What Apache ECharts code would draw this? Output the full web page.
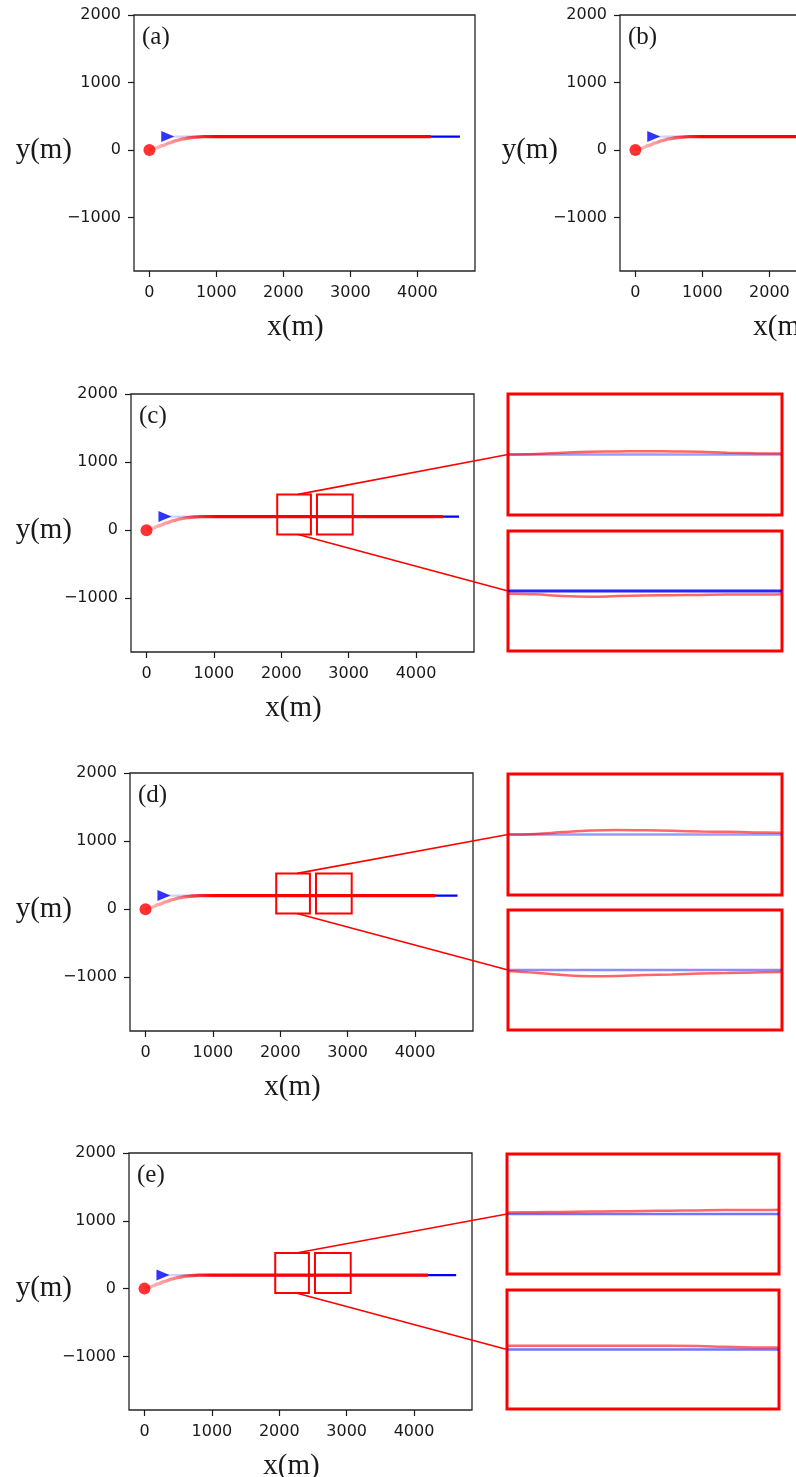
<!DOCTYPE html>
<html>
<head>
<meta charset="utf-8">
<script src="https://cdn.jsdelivr.net/npm/echarts@6/dist/echarts.min.js"></script>
<style>
html,body{margin:0;padding:0;background:#fff;}
#main{width:796px;height:1477px;}
</style>
</head>
<body>
<div id="main"></div>
<script>
// ---------------- data ----------------
const xTicks = [0, 1000, 2000, 3000, 4000];
const yTicks = [-1000, 0, 1000, 2000];
const xRange = [-230, 4860];
const yRange = [-1790, 2000];
const panelLabels = ['(a)', '(b)', '(c)', '(d)', '(e)'];
const xName = 'x(m)';
const yName = 'y(m)';

const startPoint = [0, 0];          // red circle (pursuer start)
const targetStart = [274, 200];     // blue triangle (target start)
const targetY = 200;

// pursuer approach curve (shared by all panels)
const approachX = [0, 100, 200, 300, 400, 500, 600, 700, 800, 900, 1000, 1200];
const approachY = [0, 30, 68, 106, 140, 166, 183, 193, 198, 200, 200, 200];

// end of trajectories per panel (a..e)
const redEndX  = [4200, 4200, 4400, 4300, 4205];
const blueEndX = [4635, 4635, 4637, 4630, 4625];

// zoom boxes (panels c, d, e)
const zoomBox1X = [1940, 2440];
const zoomBox2X = [2530, 3060];
const zoomBoxY  = [-65, 525];
const connectorAnchorX = 2250;
const insetYRange = [180, 220];

const zoomTopX    = [1940, 1990, 2040, 2090, 2140, 2190, 2240, 2290, 2340, 2390, 2440];
const zoomBottomX = [2530, 2583, 2636, 2689, 2742, 2795, 2848, 2901, 2954, 3007, 3060];

const cTopRed    = [200.0, 200.2, 200.6, 200.9, 201.0, 201.1, 201.0, 200.9, 200.6, 200.4, 200.3];
const cBottomRed = [199.1, 198.9, 198.3, 198.1, 198.3, 198.5, 198.6, 198.7, 198.8, 198.8, 198.9];
const dTopRed    = [200.0, 200.2, 200.8, 201.3, 201.5, 201.4, 201.2, 201.0, 200.9, 200.7, 200.6];
const dBottomRed = [199.7, 199.1, 198.3, 197.9, 198.0, 198.3, 198.5, 198.8, 199.0, 199.2, 199.3];
const eTopRed    = [200.5, 200.6, 200.7, 200.8, 200.9, 201.0, 201.1, 201.2, 201.3, 201.3, 201.4];
const eBottomRed = [201.3, 201.3, 201.3, 201.3, 201.3, 201.3, 201.3, 201.2, 200.9, 200.7, 200.7];

// ---------------- layout ----------------
const mainGrids = [
  {left: 134, top: 15,   width: 341, height: 256},
  {left: 620, top: 15,   width: 341, height: 256},
  {left: 131, top: 394,  width: 343, height: 258},
  {left: 130, top: 773,  width: 343, height: 258},
  {left: 129, top: 1153, width: 343, height: 257}
];
const yNameRight = [72, 558, 72, 72, 72];
const insetGrids = [ // [top, bottom] for panels c, d, e
  [{left: 508, top: 394, width: 274, height: 121}, {left: 508, top: 531, width: 274, height: 120}],
  [{left: 508, top: 774, width: 274, height: 121}, {left: 508, top: 910, width: 274, height: 120}],
  [{left: 507, top: 1154, width: 272, height: 120}, {left: 507, top: 1290, width: 272, height: 119}]
];
const insetRed = [[cTopRed, cBottomRed], [dTopRed, dBottomRed], [eTopRed, eBottomRed]];
const insetBlueStyle = [
  [{color: 'rgba(0,0,255,0.40)', width: 2.5}, {color: 'rgba(0,0,255,0.85)', width: 3}],
  [{color: 'rgba(0,0,255,0.40)', width: 2.5}, {color: 'rgba(0,0,255,0.45)', width: 2.5}],
  [{color: 'rgba(0,0,255,0.55)', width: 2.5}, {color: 'rgba(0,0,255,0.55)', width: 2.5}]
];

const tickFont = 'DejaVu Sans';
const serif = 'Liberation Serif';
const ink = '#1a1a1a';

function fmt(v) { return v < 0 ? '\u2212' + Math.abs(v) : String(v); }

const grid = [], xAxis = [], yAxis = [], series = [];

mainGrids.forEach((g, i) => {
  grid.push(Object.assign({show: true, borderColor: '#262626', borderWidth: 1.3,
    backgroundColor: 'transparent', containLabel: false, outerBoundsMode: 'none'}, g));
  xAxis.push({
    gridIndex: i, type: 'value', min: xRange[0], max: xRange[1], position: 'bottom',
    axisLine: {show: false, onZero: false}, splitLine: {show: false},
    axisTick: {show: true, customValues: xTicks, length: 6, lineStyle: {color: ink, width: 1.2}},
    axisLabel: {customValues: xTicks, margin: 14, fontSize: 16, fontFamily: tickFont, color: ink, formatter: fmt},
    name: xName, nameLocation: 'middle', nameGap: 42,
    nameTextStyle: {fontFamily: serif, fontSize: 29, color: ink, padding: [0, 18, 0, 0]}
  });
  yAxis.push({
    gridIndex: i, type: 'value', min: yRange[0], max: yRange[1], position: 'left',
    axisLine: {show: false, onZero: false}, splitLine: {show: false},
    axisTick: {show: true, customValues: yTicks, length: 6, lineStyle: {color: ink, width: 1.2}},
    axisLabel: {customValues: yTicks, margin: 13, fontSize: 16, fontFamily: tickFont, color: ink, formatter: fmt}
  });

  const bluePts = [targetStart, [blueEndX[i], targetY]];
  const redPts = approachX.map((x, k) => [x, approachY[k]]).concat([[redEndX[i], targetY]]);

  series.push({
    type: 'line', xAxisIndex: i, yAxisIndex: i, data: bluePts, showSymbol: false, silent: true, z: 2,
    lineStyle: {width: 2.2, color: new echarts.graphic.LinearGradient(0, 0, 1, 0, [
      {offset: 0, color: 'rgba(0,0,255,0.12)'},
      {offset: 0.15, color: 'rgba(0,0,255,0.3)'},
      {offset: 0.3, color: 'rgba(0,0,255,1)'},
      {offset: 1, color: 'rgba(0,0,255,1)'}
    ])}
  });
  const red = {
    type: 'line', xAxisIndex: i, yAxisIndex: i, data: redPts, showSymbol: false, silent: true, z: 3,
    smooth: 0.3, smoothMonotone: 'x',
    lineStyle: {width: 3.3, color: new echarts.graphic.LinearGradient(0, 0, 1, 0, [
      {offset: 0, color: 'rgba(255,0,0,0.22)'},
      {offset: 0.12, color: 'rgba(255,0,0,0.5)'},
      {offset: 0.24, color: 'rgba(255,0,0,1)'},
      {offset: 1, color: 'rgba(255,0,0,1)'}
    ])}
  };
  if (i >= 2) {
    red.markArea = {
      silent: true,
      itemStyle: {color: 'rgba(0,0,0,0)', borderColor: '#ff0000', borderWidth: 2},
      data: [
        [{coord: [zoomBox1X[0], zoomBoxY[0]]}, {coord: [zoomBox1X[1], zoomBoxY[1]]}],
        [{coord: [zoomBox2X[0], zoomBoxY[0]]}, {coord: [zoomBox2X[1], zoomBoxY[1]]}]
      ]
    };
  }
  series.push(red);
  series.push({type: 'scatter', xAxisIndex: i, yAxisIndex: i, data: [startPoint], symbol: 'circle',
    symbolSize: 12, itemStyle: {color: '#ff0000'}, z: 5, silent: true});
  series.push({type: 'scatter', xAxisIndex: i, yAxisIndex: i, data: [targetStart], symbol: 'triangle',
    symbolRotate: -90, symbolSize: [11, 13], itemStyle: {color: '#0000ff'}, z: 5, silent: true});
});

const insetIndex = [];
insetGrids.forEach((pair, p) => {
  const idx = [];
  pair.forEach((g, k) => {
    const gi = grid.length;
    idx.push(gi);
    const bx = k === 0 ? zoomTopX : zoomBottomX;
    grid.push(Object.assign({show: true, borderColor: '#ff0000', borderWidth: 3,
      backgroundColor: 'transparent', containLabel: false, outerBoundsMode: 'none'}, g));
    xAxis.push({gridIndex: gi, type: 'value', min: bx[0], max: bx[bx.length - 1], show: false});
    yAxis.push({gridIndex: gi, type: 'value', min: insetYRange[0], max: insetYRange[1], show: false});
    series.push({type: 'line', xAxisIndex: gi, yAxisIndex: gi, silent: true, showSymbol: false, z: 2,
      data: [[bx[0], targetY], [bx[bx.length - 1], targetY]], lineStyle: insetBlueStyle[p][k]});
    series.push({type: 'line', xAxisIndex: gi, yAxisIndex: gi, silent: true, showSymbol: false, z: 3,
      smooth: 0.4, data: bx.map((x, j) => [x, insetRed[p][k][j]]),
      lineStyle: {color: 'rgba(255,0,0,0.6)', width: 2.5}});
  });
  insetIndex.push(idx);
});

const chart = echarts.init(document.getElementById('main'));
chart.setOption({animation: false, grid, xAxis, yAxis, series});

// panel labels, y-axis titles and connector lines
const graphic = [];
mainGrids.forEach((g, i) => {
  graphic.push({type: 'text', left: g.left + 8, top: g.top + 10, silent: true,
    style: {text: panelLabels[i], font: '25px "' + serif + '"', fill: ink}});
  const zeroPx = chart.convertToPixel({gridIndex: i}, [xRange[0], 0]);
  graphic.push({type: 'text', silent: true,
    style: {text: yName, x: yNameRight[i], y: zeroPx[1], align: 'right', verticalAlign: 'middle',
      textAlign: 'right', textVerticalAlign: 'middle', font: '29px "' + serif + '"', fill: ink}});
});
insetIndex.forEach((idx, p) => {
  const gi = p + 2;
  const s1 = chart.convertToPixel({gridIndex: gi}, [connectorAnchorX, zoomBoxY[1]]);
  const e1 = chart.convertToPixel({gridIndex: idx[0]}, [zoomTopX[0], targetY]);
  const s2 = chart.convertToPixel({gridIndex: gi}, [connectorAnchorX, zoomBoxY[0]]);
  const e2 = chart.convertToPixel({gridIndex: idx[1]}, [zoomBottomX[0], targetY]);
  [[s1, e1], [s2, e2]].forEach(([s, e]) => {
    graphic.push({type: 'line', silent: true, z: 10,
      shape: {x1: s[0], y1: s[1], x2: e[0], y2: e[1]},
      style: {stroke: '#ff0000', lineWidth: 1.6}});
  });
});
chart.setOption({graphic});
</script>
</body>
</html>
